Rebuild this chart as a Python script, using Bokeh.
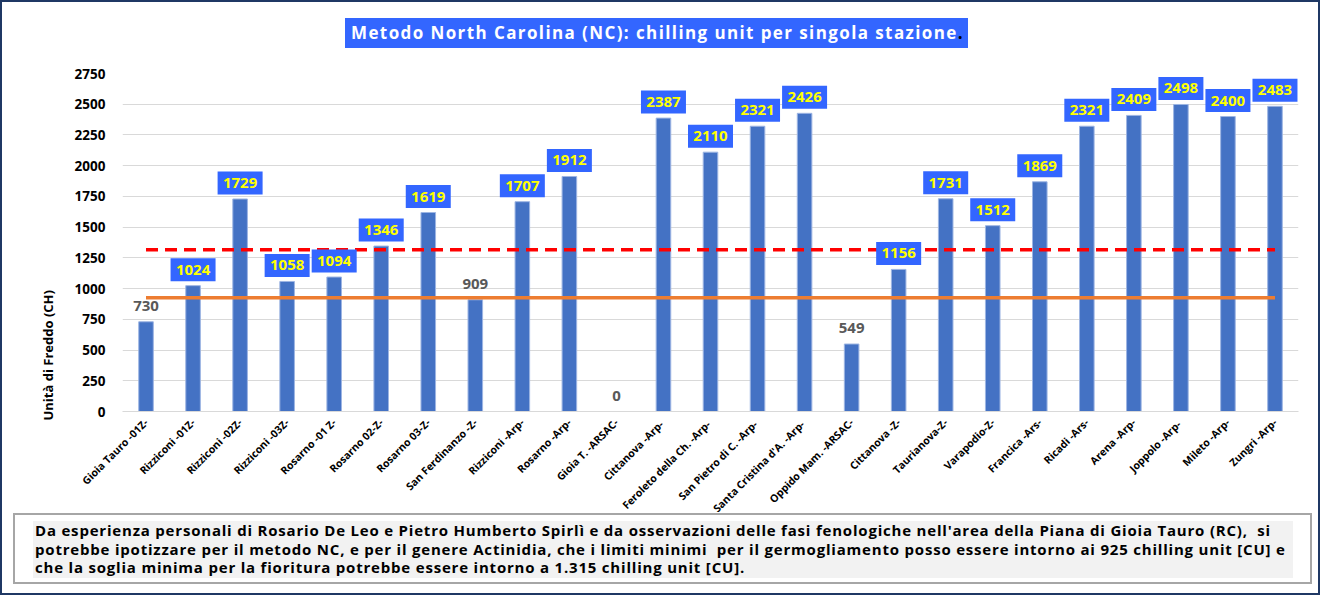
import math
from bokeh.plotting import figure
from bokeh.layouts import column
from bokeh.models import (FactorRange, Range1d, ColumnDataSource, FixedTicker, Title, Div)
from bokeh.core.properties import value
from bokeh.embed import file_html
from bokeh.resources import INLINE

# ---------------- data ----------------
stations = [
    "Gioia Tauro -01Z-", "Rizziconi -01Z-", "Rizziconi -02Z-", "Rizziconi -03Z-",
    "Rosarno -01 Z-", "Rosarno 02-Z-", "Rosarno 03-Z-", "San Ferdinanzo -Z-",
    "Rizziconi -Arp-", "Rosarno -Arp-", "Gioia T. -ARSAC-", "Cittanova  -Arp-",
    "Feroleto della Ch.  -Arp-", "San Pietro di C.  -Arp-", "Santa Cristina d'A.  -Arp-",
    "Oppido Mam. -ARSAC-", "Cittanova -Z-", "Taurianova-Z-", "Varapodio-Z-",
    "Francica -Ars-", "Ricadi -Ars-", "Arena -Arp-", "Joppolo  -Arp-", "Mileto -Arp-",
    "Zungri -Arp-",
]
chill_units = [730, 1024, 1729, 1058, 1094, 1346, 1619, 909, 1707, 1912, 0, 2387,
               2110, 2321, 2426, 549, 1156, 1731, 1512, 1869, 2321, 2409, 2498, 2400, 2483]
threshold_budbreak = 925     # germogliamento
threshold_flowering = 1315   # fioritura
y_ticks = [0, 250, 500, 750, 1000, 1250, 1500, 1750, 2000, 2250, 2500, 2750]
y_max = 2750

title_text = "Metodo North Carolina (NC): chilling unit per singola stazione"
y_label = "Unità di Freddo (CH)"
note_lines = [
    "Da esperienza personali di Rosario De Leo e Pietro Humberto Spirlì e da osservazioni delle fasi fenologiche nell'area della Piana di Gioia Tauro (RC),  si",
    "potrebbe ipotizzare per il metodo NC, e per il genere Actinidia, che i limiti minimi  per il germogliamento posso essere intorno ai 925 chilling unit [CU] e",
    "che la soglia minima per la fioritura potrebbe essere intorno a 1.315 chilling unit [CU].",
]

# ---------------- layout constants (page pixels) ----------------
FONT = "Open Sans"
BAR = "#4472C4"
BOXBLUE = "#3366FF"
NAVY = "#1F3864"
B = 2                 # wrapper border width
W = 1316
TOP_H = 58            # page y 2..60
FRAME_TOP, FRAME_BOT = 73, 411
FRAME_L, FRAME_R = 122, 1298
MB = 135
MAIN_H = (FRAME_BOT - (B + TOP_H)) + MB
NOTE_TOP = 512
NOTE_H = 81
main_bottom = B + TOP_H + MAIN_H
overlap = main_bottom - NOTE_TOP

# ---------------- title strip (HTML) ----------------
title_html = f"""
<div style="position:relative;width:{W}px;height:{TOP_H}px;background:white;">
  <div style="position:absolute;left:{345 - B}px;top:{18 - B}px;width:623px;height:30px;background:{BOXBLUE};"></div>
  <div style="position:absolute;left:{351 - B}px;top:{18 - B}px;height:30px;line-height:30px;
              font-family:'{FONT}';font-weight:bold;font-size:17px;letter-spacing:1.4px;
              color:white;white-space:nowrap;">{title_text}<span style="color:black;">.</span></div>
</div>"""
top = Div(text=title_html, width=W, height=TOP_H, margin=0)

# ---------------- main chart ----------------
frame_h = FRAME_BOT - FRAME_TOP
ppu = frame_h / y_max

p = figure(width=W, height=MAIN_H,
           x_range=FactorRange(factors=stations, range_padding=0),
           y_range=Range1d(0, y_max),
           output_backend="svg", toolbar_location=None,
           min_border_left=FRAME_L - B, min_border_right=W - (FRAME_R - B),
           min_border_top=FRAME_TOP - (B + TOP_H), min_border_bottom=MB,
           margin=0)
p.outline_line_color = None
p.background_fill_color = "white"
p.border_fill_color = "white"
p.xgrid.grid_line_color = None
p.ygrid.grid_line_color = "#D9D9D9"
p.yaxis.ticker = FixedTicker(ticks=y_ticks)
p.yaxis.axis_line_color = None
p.yaxis.major_tick_line_color = None
p.yaxis.minor_tick_line_color = None
p.yaxis.major_label_standoff = 11
p.yaxis.major_label_text_font = FONT
p.yaxis.major_label_text_font_style = "bold"
p.yaxis.major_label_text_font_size = "13.5px"
p.yaxis.major_label_text_color = "black"

p.xaxis.axis_line_color = "#D9D9D9"
p.xaxis.major_tick_line_color = None
p.xaxis.minor_tick_line_color = None
p.xaxis.major_label_orientation = math.pi / 4
p.xaxis.major_label_standoff = 3
p.xaxis.major_label_text_font = FONT
p.xaxis.major_label_text_font_style = "bold"
p.xaxis.major_label_text_font_size = "10.5px"
p.xaxis.major_label_text_color = "black"

p.add_layout(Title(text=y_label, align="left", offset=-9, standoff=30,
                   text_font=FONT, text_font_style="bold", text_font_size="13px",
                   text_color="black"), "left")

src = ColumnDataSource(dict(station=stations, cu=chill_units))
p.vbar(x="station", top="cu", width=0.31, source=src,
       fill_color=BAR, line_color="#9DB5E3", line_width=1)

p.line(x=stations, y=[threshold_budbreak] * len(stations), line_color="#ED7D31", line_width=3.5)
p.line(x=stations, y=[threshold_flowering] * len(stations), line_color="#FF0000",
       line_width=3.5, line_dash="12 7")

off_px = 16
hi = [(s, v) for s, v in zip(stations, chill_units) if v > threshold_budbreak]
lo = [(s, v) for s, v in zip(stations, chill_units) if v <= threshold_budbreak]
hi_src = ColumnDataSource(dict(station=[s for s, _ in hi], cu=[v for _, v in hi],
                               ybox=[v + off_px / ppu for _, v in hi],
                               txt=[str(v) for _, v in hi]))
lo_src = ColumnDataSource(dict(station=[s for s, _ in lo], cu=[v for _, v in lo],
                               txt=[str(v) for _, v in lo]))
p.rect(x="station", y="ybox", width=45, height=23, width_units="screen", height_units="screen",
       source=hi_src, fill_color=BOXBLUE, line_color=None)
p.text(x="station", y="cu", text="txt", source=hi_src, y_offset=-off_px,
       text_align="center", text_baseline="middle", text_color="#FFFF00",
       text_font=value(FONT), text_font_style="bold", text_font_size="15px")
p.text(x="station", y="cu", text="txt", source=lo_src, y_offset=-off_px,
       text_align="center", text_baseline="middle", text_color="#595959",
       text_font=value(FONT), text_font_style="bold", text_font_size="15px")

# ---------------- note box (HTML) ----------------
lines_html = "\n".join(note_lines)
note_html = f"""
<div style="position:relative;width:{W}px;height:{NOTE_H}px;background:white;">
  <div style="position:absolute;left:{13 - B}px;top:{513 - NOTE_TOP}px;width:1299px;height:71px;
              box-sizing:border-box;border:2px solid #A6A6A6;background:white;"></div>
  <div style="position:absolute;left:{33 - B}px;top:{521 - NOTE_TOP}px;width:1260px;height:57px;background:#F2F2F2;"></div>
  <div style="position:absolute;left:{35 - B}px;top:{521 - NOTE_TOP}px;line-height:18.5px;
              font-family:'{FONT}';font-weight:bold;font-size:15px;letter-spacing:0.8px;
              color:black;white-space:pre;">{lines_html}</div>
</div>"""
note = Div(text=note_html, width=W, height=NOTE_H, margin=(-overlap, 0, 0, 0),
           styles={"position": "relative", "z-index": "10"})

layout = column(top, p, note, spacing=0,
                styles={"border": f"{B}px solid {NAVY}"})
open("out.html", "w").write(file_html(layout, INLINE))
